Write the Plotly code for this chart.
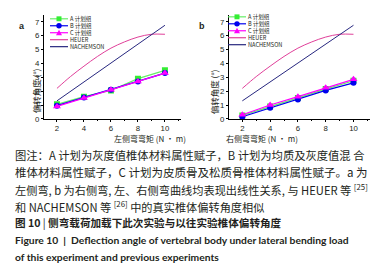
import plotly.graph_objects as go

W, H = 382, 266

# ---------------- data ----------------
moments = [2, 4, 6, 8, 10]
left_A = [1.05, 1.6, 2.05, 2.9, 3.5]
left_B = [0.95, 1.55, 2.1, 2.7, 3.3]
left_C = [0.9, 1.5, 2.1, 2.7, 3.3]
right_A = [0.25, 0.9, 1.5, 2.15, 2.75]
right_B = [0.15, 0.8, 1.4, 2.05, 2.6]
right_C = [0.3, 1.0, 1.6, 2.25, 2.85]
heuer_x = [2, 3, 4, 5, 6, 7, 8, 9, 10]
heuer_y = [2.2, 3.05, 3.8, 4.5, 5.1, 5.55, 5.9, 6.1, 6.1]
nach_y = [1.3, 2.65, 4.0, 5.4, 6.75]
series_names = ["A 计划组", "B 计划组", "C 计划组", "HEUER", "NACHEMSON"]
y_ticks = [0, 1, 2, 3, 4, 5, 6, 7]
x_ticks = [2, 4, 6, 8, 10]

caption_lines = [
    "图注：A 计划为灰度值椎体材料属性赋子，B 计划为均质及灰度值混 合",
    "椎体材料属性赋子，C 计划为皮质骨及松质骨椎体材料属性赋子。a 为",
    "左侧弯, b 为右侧弯, 左、右侧弯曲线均表现出线性关系, 与 HEUER 等 <sup>[25]</sup>",
    "和 NACHEMSON 等 <sup>[26]</sup> 中的真实椎体偏转角度相似",
]
title_cn = "<b>图 10</b> | <b>侧弯载荷加载下此次实验与以往实验椎体偏转角度</b>"
title_en = ["<b>Figure 10  |  Deflection angle of vertebral body under lateral bending load</b>",
            "<b>of this experiment and previous experiments</b>"]

# ---------------- style ----------------
C_A = "#33ee33"
C_A_line = "#66ee66"
C_B = "#0000ee"
C_C = "#ff00ff"
C_H = "#e0409a"
C_N = "#27277f"
TXT = "#231f20"


def px(x):
    return x / W


def py(y):
    return 1 - y / H


fig = go.Figure()

panels = [
    dict(xa="x", ya="y", A=left_A, B=left_B, C=left_C),
    dict(xa="x2", ya="y2", A=right_A, B=right_B, C=right_C),
]
for p in panels:
    fig.add_trace(go.Scatter(x=heuer_x, y=heuer_y, mode="lines", line=dict(color=C_H, width=1, shape="spline"),
                             xaxis=p["xa"], yaxis=p["ya"], showlegend=False))
    fig.add_trace(go.Scatter(x=moments, y=nach_y, mode="lines", line=dict(color=C_N, width=1),
                             xaxis=p["xa"], yaxis=p["ya"], showlegend=False))
    fig.add_trace(go.Scatter(x=moments, y=p["A"], mode="lines+markers", line=dict(color=C_A_line, width=1.2),
                             marker=dict(symbol="square", size=6, color=C_A),
                             xaxis=p["xa"], yaxis=p["ya"], showlegend=False))
    fig.add_trace(go.Scatter(x=moments, y=p["B"], mode="lines+markers", line=dict(color=C_B, width=1.2),
                             marker=dict(symbol="circle", size=6, color=C_B),
                             xaxis=p["xa"], yaxis=p["ya"], showlegend=False))
    fig.add_trace(go.Scatter(x=moments, y=p["C"], mode="lines+markers", line=dict(color=C_C, width=1.2),
                             marker=dict(symbol="triangle-up", size=7, color=C_C),
                             xaxis=p["xa"], yaxis=p["ya"], showlegend=False))

axis_common = dict(showline=True, linecolor="black", linewidth=1, ticks="outside", ticklen=2,
                   tickwidth=1, tickcolor="black", showgrid=False, zeroline=False,
                   tickfont=dict(family="Liberation Sans", size=7.8, color=TXT))
xcommon = dict(axis_common, range=[1.04, 11.19], tickvals=x_ticks,
               minor=dict(dtick=1, tick0=0, ticks="outside", ticklen=1.5, tickcolor="black", showgrid=False))
ycommon = dict(axis_common, range=[0, 7.5], tickvals=y_ticks)

fig.update_layout(
    width=W, height=H, margin=dict(l=0, r=0, t=0, b=0),
    paper_bgcolor="white", plot_bgcolor="white", showlegend=False,
    xaxis=dict(xcommon, domain=[px(36), px(173)], anchor="y"),
    yaxis=dict(ycommon, domain=[py(113), py(7)], anchor="x"),
    xaxis2=dict(xcommon, domain=[px(221), px(362)], anchor="y2"),
    yaxis2=dict(ycommon, domain=[py(113), py(7)], anchor="x2"),
)

annotations = []
shapes = []

# panel labels
annotations.append(dict(x=px(9), y=py(11), text="<b>a</b>", showarrow=False, xref="paper", yref="paper",
                        font=dict(family="Liberation Sans", size=9, color=TXT)))
annotations.append(dict(x=px(194), y=py(11), text="<b>b</b>", showarrow=False, xref="paper", yref="paper",
                        font=dict(family="Liberation Sans", size=9, color=TXT)))

# axis titles
for xc, ytx, title in [(105, 20, "左侧弯弯矩 (N • m)"), (291, 206, "右侧弯弯矩 (N • m)")]:
    annotations.append(dict(x=px(xc), y=py(133.5), text=title, showarrow=False, xref="paper", yref="paper",
                            yanchor="middle", borderpad=0,
                            font=dict(family="Noto Sans CJK SC", size=8, color=TXT)))
    annotations.append(dict(x=px(ytx), y=py(60), text="偏转角度 (°)", textangle=-90, showarrow=False,
                            xref="paper", yref="paper",
                            font=dict(family="Noto Sans CJK SC", size=8.5, color=TXT)))

# manual legends
leg_styles = [
    (C_A_line, C_A, "square"),
    (C_B, C_B, "circle"),
    (C_C, C_C, "triangle"),
    (C_H, None, None),
    (C_N, None, None),
]
for x0, ytop in [(42, 11.0), (220, 9.0)]:
    for i, (name, (lc, mc, sym)) in enumerate(zip(series_names, leg_styles)):
        yy = ytop + i * 7.1
        shapes.append(dict(type="line", xref="paper", yref="paper", x0=px(x0), x1=px(x0 + 18),
                           y0=py(yy), y1=py(yy), line=dict(color=lc, width=1.2)))
        cx = x0 + 9
        if sym == "square":
            shapes.append(dict(type="rect", xref="paper", yref="paper", x0=px(cx - 2.5), x1=px(cx + 2.5),
                               y0=py(yy + 2.5), y1=py(yy - 2.5), fillcolor=mc, line=dict(width=0)))
        elif sym == "circle":
            shapes.append(dict(type="circle", xref="paper", yref="paper", x0=px(cx - 2.7), x1=px(cx + 2.7),
                               y0=py(yy + 2.7), y1=py(yy - 2.7), fillcolor=mc, line=dict(width=0)))
        elif sym == "triangle":
            path = "M {} {} L {} {} L {} {} Z".format(px(cx - 3), py(yy + 2.5), px(cx + 3), py(yy + 2.5),
                                                       px(cx), py(yy - 3))
            shapes.append(dict(type="path", xref="paper", yref="paper", path=path, fillcolor=mc,
                               line=dict(width=0)))
        annotations.append(dict(x=px(x0 + 18.5), y=py(yy), text=name, showarrow=False, xref="paper",
                                yref="paper", xanchor="left", yanchor="middle", borderpad=0,
                                font=dict(family="Noto Sans CJK SC", size=5.6, color=TXT)))

# caption
cap_y = [149.5, 167, 185, 202]
cap_sizes = [11.3, 11.5, 11.2, 11.2]
for t, yy, fs in zip(caption_lines, cap_y, cap_sizes):
    annotations.append(dict(x=px(5), y=py(yy), text=t, showarrow=False, xref="paper", yref="paper",
                            xanchor="left", yanchor="middle",
                            font=dict(family="Noto Sans CJK SC", size=fs, color=TXT)))
annotations.append(dict(x=px(5), y=py(219), text=title_cn, showarrow=False, xref="paper", yref="paper",
                        xanchor="left", yanchor="middle",
                        font=dict(family="Noto Sans CJK SC", size=10.6, color=TXT)))
for t, yy in zip(title_en, [236.7, 254]):
    annotations.append(dict(x=px(5), y=py(yy), text=t, showarrow=False, xref="paper", yref="paper",
                            xanchor="left", yanchor="middle",
                            font=dict(family="Lato", size=10.3, color=TXT)))

fig.update_layout(annotations=annotations, shapes=shapes)
fig.write_html("out.html")
